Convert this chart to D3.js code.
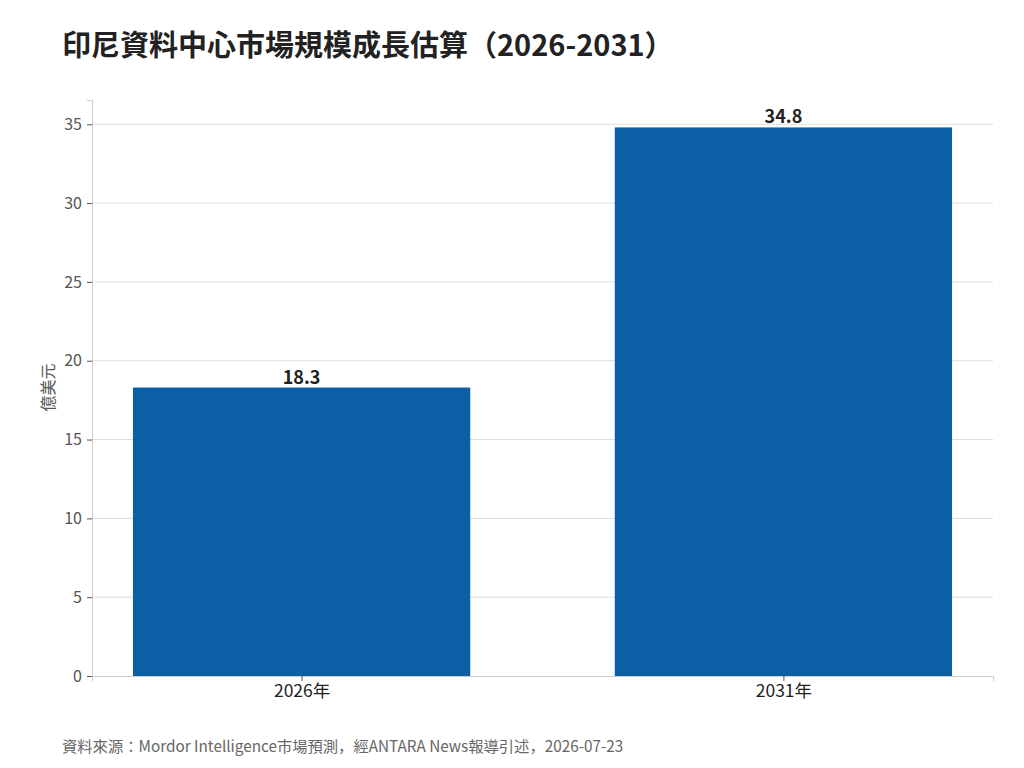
<!DOCTYPE html>
<html lang="ja">
<head>
<meta charset="utf-8">
<script src="https://d3js.org/d3.v7.min.js"></script>
<style>
  body { margin: 0; background: #fff; }
  text { font-family: "Noto Sans CJK JP", "Noto Sans", sans-serif; }
</style>
</head>
<body>
<div id="chart"></div>
<script>
// data
const years = ["2026年", "2031年"];
const values = [18.3, 34.8];
const yTicks = [0, 5, 10, 15, 20, 25, 30, 35];

const width = 1024, height = 768;
const margin = { left: 92, right: 31, top: 100, bottom: 92 };
const plotW = width - margin.left - margin.right;
const plotH = height - margin.top - margin.bottom;
const font = '"Noto Sans CJK JP", sans-serif';

const svg = d3.select("#chart").append("svg")
  .attr("width", width).attr("height", height);

// x as positions 0,1 with bar width 0.7
const x = d3.scaleLinear().domain([-0.435, 1.435]).range([margin.left, margin.left + plotW]);
const y = d3.scaleLinear().domain([0, 34.8 * 1.05]).range([margin.top + plotH, margin.top]);
const barW = 0.7;

// grid
svg.append("g").selectAll("line")
  .data(yTicks.slice(1))
  .join("line")
  .attr("x1", margin.left).attr("x2", margin.left + plotW)
  .attr("y1", d => y(d)).attr("y2", d => y(d))
  .attr("stroke", "#dddddd").attr("stroke-width", 1);

// bars
svg.append("g").selectAll("rect")
  .data(values)
  .join("rect")
  .attr("x", (d, i) => x(i - barW / 2))
  .attr("width", (d, i) => x(i + barW / 2) - x(i - barW / 2))
  .attr("y", d => y(d))
  .attr("height", d => y(0) - y(d))
  .attr("fill", "#0b5fa5");

// value labels
svg.append("g").selectAll("text")
  .data(values)
  .join("text")
  .attr("x", (d, i) => x(i))
  .attr("y", d => y(d) - 4)
  .attr("text-anchor", "middle")
  .attr("font-size", 18).attr("font-weight", "bold")
  .attr("fill", "#222")
  .text(d => d.toFixed(1));

// y axis
const yAxis = svg.append("g")
  .attr("transform", `translate(${margin.left},0)`)
  .call(d3.axisLeft(y).tickValues(yTicks).tickSize(5).tickPadding(5));
yAxis.select(".domain").attr("stroke", "#cccccc");
yAxis.selectAll(".tick line").attr("stroke", "#555");
yAxis.selectAll(".tick text").attr("font-size", 16).attr("fill", "#555")
  .style("font-family", font);

// x axis
const xAxis = svg.append("g")
  .attr("transform", `translate(0,${margin.top + plotH})`)
  .call(d3.axisBottom(x).tickValues([0, 1]).tickFormat(i => years[i]).tickSize(5).tickPadding(4));
xAxis.select(".domain").attr("stroke", "#cccccc");
xAxis.selectAll(".tick line").attr("stroke", "#555");
xAxis.selectAll(".tick text").attr("font-size", 17.5).attr("fill", "#222")
  .style("font-family", font);

// y label
svg.append("text")
  .attr("transform", `translate(54,${y(18.3)}) rotate(-90)`)
  .attr("text-anchor", "middle")
  .attr("font-size", 16).attr("fill", "#555")
  .text("億美元");

// title
svg.append("text")
  .attr("x", 62).attr("y", 56)
  .attr("font-size", 29).attr("font-weight", "bold").attr("fill", "#222")
  .text("印尼資料中心市場規模成長估算（2026-2031）");

// source
svg.append("text")
  .attr("x", 62).attr("y", 752)
  .attr("font-size", 15.3).attr("fill", "#666")
  .text("資料來源：Mordor Intelligence市場預測，經ANTARA News報導引述，2026-07-23");
</script>
</body>
</html>
